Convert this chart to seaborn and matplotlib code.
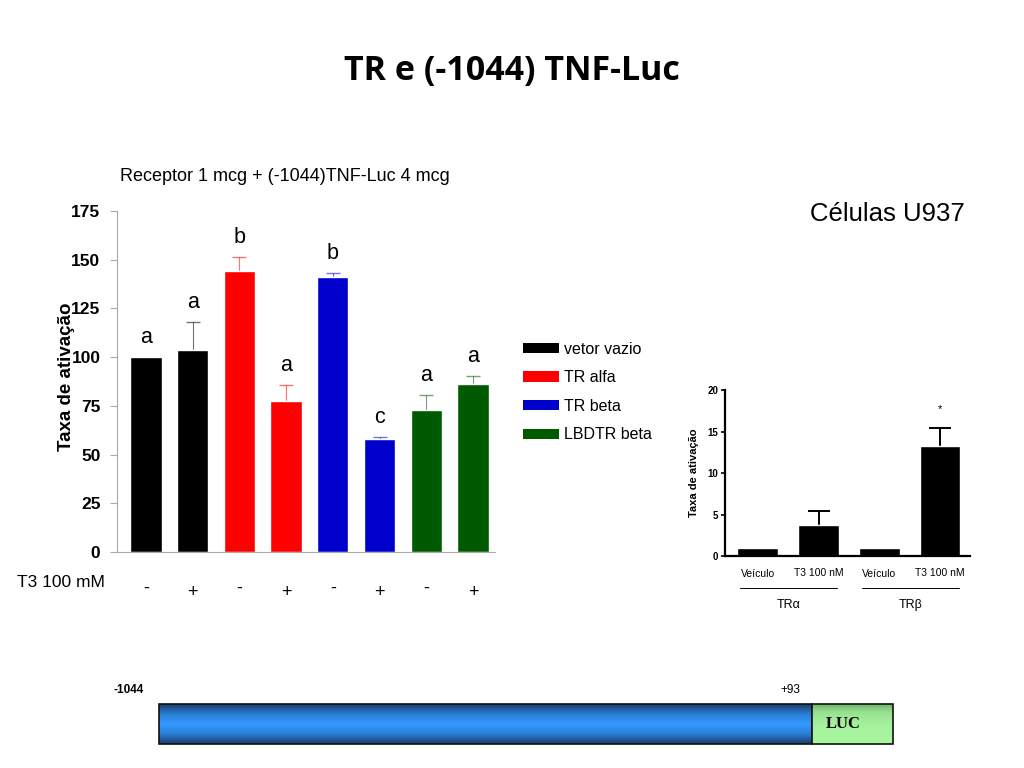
import numpy as np
import pandas as pd
import seaborn as sns
import matplotlib.pyplot as plt
import matplotlib.transforms as mtransforms
from matplotlib.patches import Patch, Rectangle
from matplotlib.colors import LinearSegmentedColormap

sns.set_style('white')
plt.rcParams['font.family'] = ['Liberation Sans', 'DejaVu Sans']
plt.rcParams.update({'text.color': 'black', 'axes.labelcolor': 'black',
                     'xtick.color': 'black', 'ytick.color': 'black'})

# main chart data
groups = ['vetor vazio', 'TR alfa', 'TR beta', 'LBDTR beta']
group_colors = ['#000000', '#ff0000', '#0000cc', '#005a00']
conditions = ['v-', 'v+', 'a-', 'a+', 'b-', 'b+', 'l-', 'l+']
t3_signs = ['-', '+', '-', '+', '-', '+', '-', '+']
values = [100, 103.5, 144, 77.5, 141, 58, 73, 86]
errors = [0, 14.5, 7.5, 8, 2, 1, 7.5, 4.5]
letters = ['a', 'a', 'b', 'a', 'b', 'c', 'a', 'a']
bar_colors = [group_colors[i // 2] for i in range(8)]

# inset data
inset_cond = ['TRa_veh', 'TRa_t3', 'TRb_veh', 'TRb_t3']
inset_labels = ['Veículo', 'T3 100 nM', 'Veículo', 'T3 100 nM']
inset_values = [1, 3.75, 1, 13.3]
inset_errors = [0, 1.65, 0, 2.1]
inset_groups = ['TR\u03b1', 'TR\u03b2']

df = pd.DataFrame({'cond': conditions, 'value': values})
df_in = pd.DataFrame({'cond': inset_cond, 'value': inset_values})

fig = plt.figure(figsize=(10.24, 7.68), dpi=100)

fig.text(0.5, 0.908, 'TR e (-1044) TNF-Luc', ha='center', va='center',
         fontsize=24.5, fontweight='bold', family='Open Sans')
fig.text(0.117, 0.770, 'Receptor 1 mcg + (-1044)TNF-Luc 4 mcg', ha='left', va='center',
         fontsize=13)
fig.text(0.942, 0.722, 'Células U937', ha='right', va='center', fontsize=18.5)

# ---- main bar chart
ax = fig.add_axes([0.1143, 0.2813, 0.369, 0.444])
sns.barplot(data=df, x='cond', y='value', hue='cond', palette=bar_colors,
            legend=False, width=0.67, errorbar=None, ax=ax, saturation=1, zorder=2)
x = np.arange(len(values))
for i in x:
    if errors[i] > 0:
        ax.errorbar(i, values[i], yerr=errors[i], fmt='none', zorder=1,
                    ecolor=bar_colors[i], elinewidth=0.8, capsize=5, alpha=0.55)
    ax.text(i, values[i] + errors[i] + 10, letters[i], ha='center', va='center', fontsize=15.5)
ax.set_xlim(-0.62, 7.47)
ax.set_ylim(0, 175)
ax.set_yticks([0, 25, 50, 75, 100, 125, 150, 175])
ax.set_xticks([])
ax.set_xlabel('')
ax.set_ylabel('')
for lab in ax.get_yticklabels():
    lab.set_fontweight('bold')
ax.tick_params(axis='y', labelsize=12.5, length=5, color='#aaaaaa', labelcolor='black',
               direction='out', left=True, pad=7)
for s in ['top', 'right']:
    ax.spines[s].set_visible(False)
for s in ['left', 'bottom']:
    ax.spines[s].set_color('#aaaaaa')
    ax.spines[s].set_linewidth(0.8)
fig.text(0.0645, 0.51, 'Taxa de ativação', rotation=90, ha='center', va='center',
         fontsize=13.5, fontweight='bold')

trans = mtransforms.blended_transform_factory(ax.transData, fig.transFigure)
for i, s in enumerate(t3_signs):
    ax.text(i, 0.234 if s == '-' else 0.229, s, transform=trans, ha='center', va='center',
            fontsize=13)
fig.text(0.017, 0.241, 'T3 100 mM', ha='left', va='center', fontsize=12.5)

# legend
handles = [Patch(facecolor=c, edgecolor='none') for c in group_colors]
fig.legend(handles, groups, loc='upper left', bbox_to_anchor=(0.497, 0.574), frameon=False,
           fontsize=11.5, handlelength=2.25, handleheight=0.6, handletextpad=0.3,
           labelspacing=0.85)

# ---- inset chart
ax2 = fig.add_axes([0.708, 0.276, 0.239, 0.216])
sns.barplot(data=df_in, x='cond', y='value', color='black', width=0.67,
            errorbar=None, ax=ax2, saturation=1, zorder=2)
for i in range(len(inset_values)):
    if inset_errors[i] > 0:
        ax2.errorbar(i, inset_values[i], yerr=inset_errors[i], fmt='none', zorder=1,
                     ecolor='black', elinewidth=1.4, capsize=8, capthick=1.4)
ax2.text(3, 17.7, '*', ha='center', va='center', fontsize=8)
ax2.set_xlim(-0.54, 3.49)
ax2.set_ylim(0, 20)
ax2.set_yticks([0, 5, 10, 15, 20])
ax2.set_xticks(range(len(inset_labels)))
ax2.set_xticklabels(inset_labels)
for i, lab in enumerate(ax2.get_xticklabels()):
    lab.set_y(-0.03 if i % 2 == 0 else -0.02)
ax2.tick_params(axis='x', length=0, labelsize=7.5, pad=6)
for lab in ax2.get_yticklabels():
    lab.set_fontweight('bold')
ax2.tick_params(axis='y', labelsize=7, length=3, width=1.2, left=True, direction='out', pad=2)
ax2.set_xlabel('')
ax2.set_ylabel('Taxa de ativação', fontsize=8, fontweight='bold', labelpad=6)
for s in ['top', 'right']:
    ax2.spines[s].set_visible(False)
for s in ['left', 'bottom']:
    ax2.spines[s].set_color('black')
    ax2.spines[s].set_linewidth(1.6)

trans2 = mtransforms.blended_transform_factory(ax2.transData, fig.transFigure)
for k, (x0, x1) in enumerate([(-0.3, 1.31), (1.72, 3.31)]):
    ax2.plot([x0, x1], [0.234, 0.234], transform=trans2, color='black', lw=0.7, clip_on=False)
    ax2.text((x0 + x1) / 2, 0.212, inset_groups[k], transform=trans2, ha='center',
             va='center', fontsize=9)

# ---- promoter construct diagram
grad = np.abs(np.linspace(-1, 1, 64))[:, None]
blue_cmap = LinearSegmentedColormap.from_list('b', ['#3399ff', '#2a7fd6', '#173a6b'])
green_cmap = LinearSegmentedColormap.from_list('g', ['#a8f5a0', '#98e090', '#6fb56a'])
axb = fig.add_axes([159 / 1024, 1 - 744 / 768, (812 - 159) / 1024, 40 / 768])
axb.imshow(grad, aspect='auto', cmap=blue_cmap, extent=[0, 1, 0, 1])
axb.set_axis_off()
axb.add_patch(Rectangle((0, 0), 1, 1, fill=False, edgecolor='#111111', lw=1.2,
                        transform=axb.transAxes, clip_on=False))
axg = fig.add_axes([812 / 1024, 1 - 744 / 768, (893 - 812) / 1024, 40 / 768])
axg.imshow(np.linspace(1, 0, 64)[:, None] ** 3, aspect='auto', cmap=green_cmap,
           extent=[0, 1, 0, 1])
axg.set_axis_off()
axg.add_patch(Rectangle((0, 0), 1, 1, fill=False, edgecolor='#111111', lw=1.2,
                        transform=axg.transAxes, clip_on=False))
axg.text(0.39, 0.5, 'LUC', ha='center', va='center', fontsize=12, fontweight='bold',
         family='Liberation Serif', transform=axg.transAxes)
fig.text(113 / 1024, 1 - 690 / 768, '-1044', ha='left', va='center', fontsize=8.5,
         fontweight='bold')
fig.text(790 / 1024, 1 - 690 / 768, '+93', ha='center', va='center', fontsize=8.5)

fig.savefig('out.png', dpi=100)
